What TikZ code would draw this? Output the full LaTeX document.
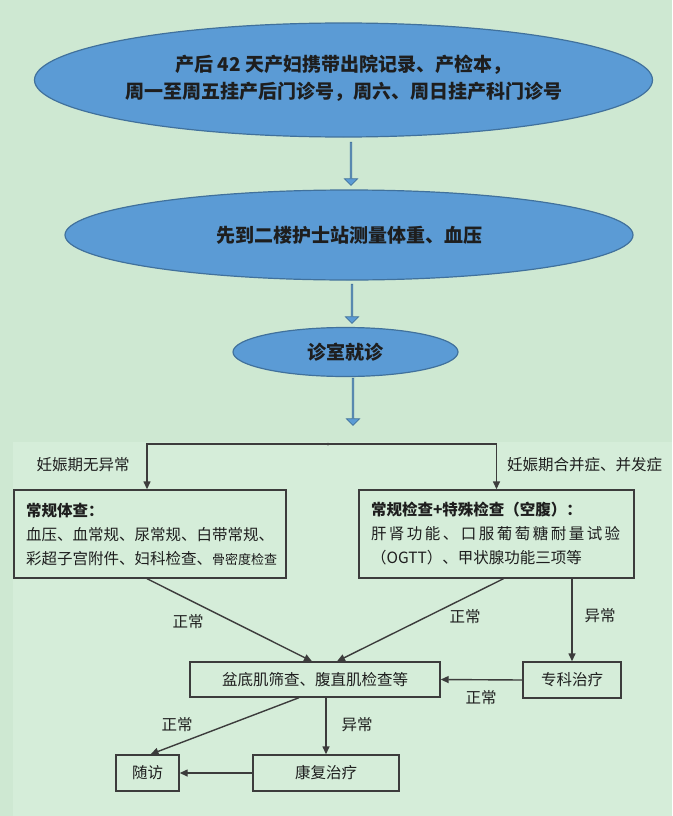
\documentclass[tikz,border=0pt]{standalone}
\usepackage{fontspec}
\setmainfont{Noto Sans CJK SC}
\newfontfamily\cjkspaced[LetterSpace=16]{Noto Sans CJK SC}
\usetikzlibrary{shapes.geometric,shapes.arrows,arrows.meta}
\definecolor{bgtop}{RGB}{206,232,210}
\definecolor{bgbot}{RGB}{213,237,217}
\definecolor{ellfill}{RGB}{91,155,213}
\definecolor{elldraw}{RGB}{65,113,156}
\definecolor{linecol}{RGB}{60,60,60}
\definecolor{txtcol}{RGB}{30,30,30}
\tikzset{
  ell/.style={ellipse, draw=elldraw, line width=1.2pt, fill=ellfill, inner sep=0pt,
    text=txtcol, font=\fontsize{19}{27}\selectfont\bfseries, align=center},
  blockarr/.style={single arrow, draw=elldraw, fill=ellfill, line width=0.8pt,
    minimum height=#1, minimum width=13pt, single arrow head extend=3.5pt,
    single arrow head indent=0pt, inner sep=0pt, shape border rotate=270},
  box/.style={rectangle, draw=linecol, line width=1.4pt, inner sep=0pt,
    text=txtcol, font=\fontsize{15.5}{24}\selectfont},
  conn/.style={draw=linecol, line width=1.4pt, -{Triangle[length=8pt,width=7pt]}},
  lab/.style={text=txtcol, font=\fontsize{15.5}{18}\selectfont, inner sep=0pt}
}
\begin{document}
\begin{tikzpicture}[x=1pt,y=-1pt]
\fill[bgtop] (0,0) rectangle (672,816);
\fill[bgbot] (13,442) rectangle (672,816);
\useasboundingbox (0,0) rectangle (672,816);

% ellipses
\node[ell, minimum width=473pt, minimum height=114pt] (e1) at (343.5,80)
  {\raisebox{7pt}{\begin{tabular}{@{}c@{}}产后 42 天产妇携带出院记录、产检本，\\周一至周五挂产后门诊号，周六、周日挂产科门诊号\end{tabular}}};
\node[ell, minimum width=568pt, minimum height=90pt] (e2) at (349,235)
  {先到二楼护士站测量体重、血压};
\node[ell, minimum width=225pt, minimum height=49pt] (e3) at (345.5,352)
  {\raisebox{-4pt}{诊室就诊}};

% block arrows
\node[blockarr=43pt] (a1) at (351,163.5) {};
\node[blockarr=39pt] (a2) at (352,303.5) {};
\node[blockarr=47pt] (a3) at (353,401.5) {};

% boxes
\node[box, minimum width=272pt, minimum height=88pt, text width=248pt, inner xsep=12pt, align=left] (b1) at (150,534)
  {\textbf{常规体查：}\\血压、血常规、尿常规、白带常规、\\彩超子宫附件、妇科检查、{\fontsize{13}{24}\selectfont 骨密度检查}};
\node[box, minimum width=275pt, minimum height=88pt, text width=251pt, inner xsep=12pt, align=left] (b2) at (496.5,534)
  {\textbf{常规检查+特殊检查（空腹）：}\\{\cjkspaced 肝肾功能、口服葡萄糖耐量试验}\\（OGTT）、甲状腺功能三项等};
\node[box, minimum width=250pt, minimum height=35pt] (m) at (315,679.5) {盆底肌筛查、腹直肌检查等};
\node[box, minimum width=98pt, minimum height=36pt] (s) at (572,680) {专科治疗};
\node[box, minimum width=63pt, minimum height=36pt] (f) at (147.5,773) {随访};
\node[box, minimum width=146pt, minimum height=36pt] (k) at (326,773) {康复治疗};

% split
\coordinate (split) at (328,444);
\draw[conn] (split) -| ([xshift=-3pt]b1.north);
\draw[conn] (split) -| (b2.north);
\fill[linecol] (split) circle (1.5pt);

% connectors
\draw[conn] ([xshift=-3pt]b1.south) -- ([xshift=-3pt]m.north);
\draw[conn] ([xshift=7pt]b2.south) -- ([xshift=22pt]m.north);
\draw[conn] (b2.south -| s.north) -- (s.north);
\draw[conn] (s.west) -- (m.east);
\draw[conn] ([xshift=-16pt]m.south) -- ([xshift=3pt]f.north);
\draw[conn] (m.south -| k.north) -- (k.north);
\draw[conn] (k.west) -- (f.east);

% labels
\node[lab] (l1) at (83,465) {妊娠期无异常};
\node[lab, anchor=west] (l2) at (507,465) {妊娠期合并症、并发症};
\node[lab] (l3) at (188,622) {正常};
\node[lab] (l4) at (465,617) {正常};
\node[lab] (l5) at (600,616) {异常};
\node[lab] (l6) at (481,698) {正常};
\node[lab] (l7) at (177,725) {正常};
\node[lab] (l8) at (357,725) {异常};
\end{tikzpicture}
\end{document}
